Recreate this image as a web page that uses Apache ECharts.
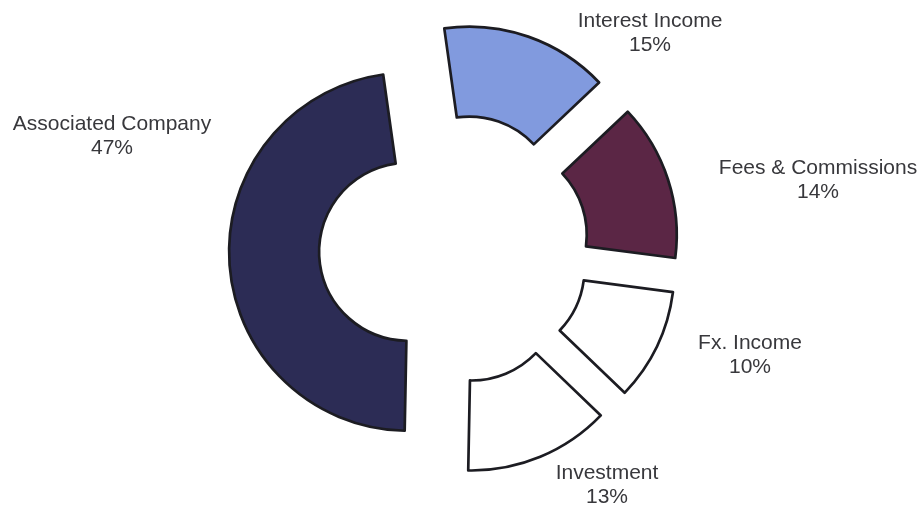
<!DOCTYPE html>
<html>
<head>
<meta charset="utf-8">
<style>
  html, body { margin: 0; padding: 0; background: #ffffff; }
  #chart { width: 921px; height: 506px; }
</style>
<script src="https://cdn.jsdelivr.net/npm/echarts@6/dist/echarts.min.js"></script>
</head>
<body>
<div id="chart"></div>
<script>
// Income breakdown, share of total (%)
const categories = ['Interest Income', 'Fees & Commissions', 'Fx. Income', 'Investment', 'Associated Company'];
const shares = [15, 14, 10, 13, 47];

// Slice fills, in category order
const sliceColors = ['#819ade', '#5b2645', '#ffffff', '#ffffff', '#2c2c55'];

// Label anchor points (centre of each two-line label), in category order
const labelAnchors = [[650, 33], [818, 180], [750, 355], [607, 485], [112, 136]];

const chart = echarts.init(document.getElementById('chart'), null, { renderer: 'canvas' });

const ringCenter = [454, 249];
const ringRadius = [89, 179];
const ringStart = 98;

// Exploded ring: every slice is pulled out from the centre
const ringData = categories.map((name, i) => ({
  name: name,
  value: shares[i],
  selected: true,
  itemStyle: { color: sliceColors[i] }
}));

// Same layout, drawn invisibly, carries the category labels
const labelData = categories.map((name, i) => ({ name: name, value: shares[i] }));

chart.setOption({
  animation: false,
  backgroundColor: '#ffffff',
  series: [{
    type: 'pie',
    center: ringCenter,
    radius: ringRadius,
    startAngle: ringStart,
    clockwise: true,
    selectedMode: 'multiple',
    selectedOffset: 46,
    itemStyle: { borderColor: '#1c1c22', borderWidth: 2.7 },
    emphasis: { scale: false },
    label: { show: false },
    labelLine: { show: false },
    data: ringData
  }, {
    type: 'pie',
    silent: true,
    center: ringCenter,
    radius: ringRadius,
    startAngle: ringStart,
    clockwise: true,
    selectedMode: false,
    avoidLabelOverlap: false,
    itemStyle: { color: 'rgba(0,0,0,0)', borderWidth: 0 },
    emphasis: { disabled: true },
    label: {
      show: true,
      position: 'outside',
      formatter: '{b}\n{c}%',
      fontFamily: 'Liberation Sans, Arial, sans-serif',
      fontSize: 21,
      lineHeight: 24,
      color: '#38383c',
      align: 'center'
    },
    labelLine: { show: false },
    labelLayout: function (params) {
      const p = labelAnchors[params.dataIndex];
      return { x: p[0], y: p[1], align: 'center', verticalAlign: 'middle' };
    },
    data: labelData
  }]
});
</script>
</body>
</html>
